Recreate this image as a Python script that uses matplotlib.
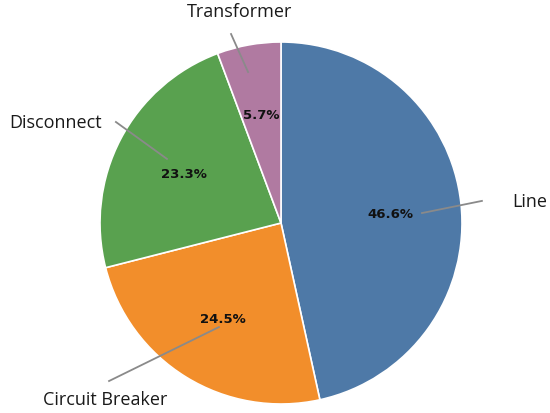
import matplotlib
matplotlib.use("Agg")
import matplotlib.pyplot as plt

categories = ["Line", "Circuit Breaker", "Disconnect", "Transformer"]
shares = [46.6, 24.5, 23.3, 5.7]
colors = ["#4e79a7", "#f28e2b", "#59a14f", "#b07aa1"]

W, H = 550, 414
cx, cy, R = 281, 224, 181

fig = plt.figure(figsize=(W / 100, H / 100), dpi=100)
ax = fig.add_axes([0, 0, 1, 1])

wedges, _ = ax.pie(shares, colors=colors, startangle=90, counterclock=False,
                   radius=1.0, wedgeprops=dict(edgecolor="white", linewidth=1.2))
ax.set_xlim(-cx / R, (W - cx) / R)
ax.set_ylim(-(H - cy) / R, cy / R)
ax.set_aspect("equal")
ax.axis("off")

# layout positions (in pie-radius units, pie centre at 0,0)
pct_xy = [(0.602, 0.055), (-0.320, -0.525), (-0.536, 0.276), (-0.110, 0.597)]
lead_a = [(0.779, 0.055), (-0.343, -0.575), (-0.630, 0.354), (-0.182, 0.834)]
lead_b = [(1.110, 0.122), (-0.950, -0.873), (-0.912, 0.558), (-0.276, 1.044)]
label_xy = [(1.276, 0.122), (-0.972, -0.972), (-0.989, 0.558), (-0.227, 1.171)]
label_ha = ["left", "center", "right", "center"]

for cat, val, p, a, b, l, ha in zip(categories, shares, pct_xy, lead_a, lead_b,
                                    label_xy, label_ha):
    ax.text(p[0], p[1], f"{val:.1f}%", ha="center", va="center", fontsize=9.5,
            fontweight="bold", family="DejaVu Sans", color="#111111")
    ax.plot([a[0], b[0]], [a[1], b[1]], color="#8a8a8a", linewidth=1.3)
    ax.text(l[0], l[1], cat, ha=ha, va="center", fontsize=13, family="Open Sans",
            color="#1a1a1a")

fig.savefig("out.png", dpi=100)
